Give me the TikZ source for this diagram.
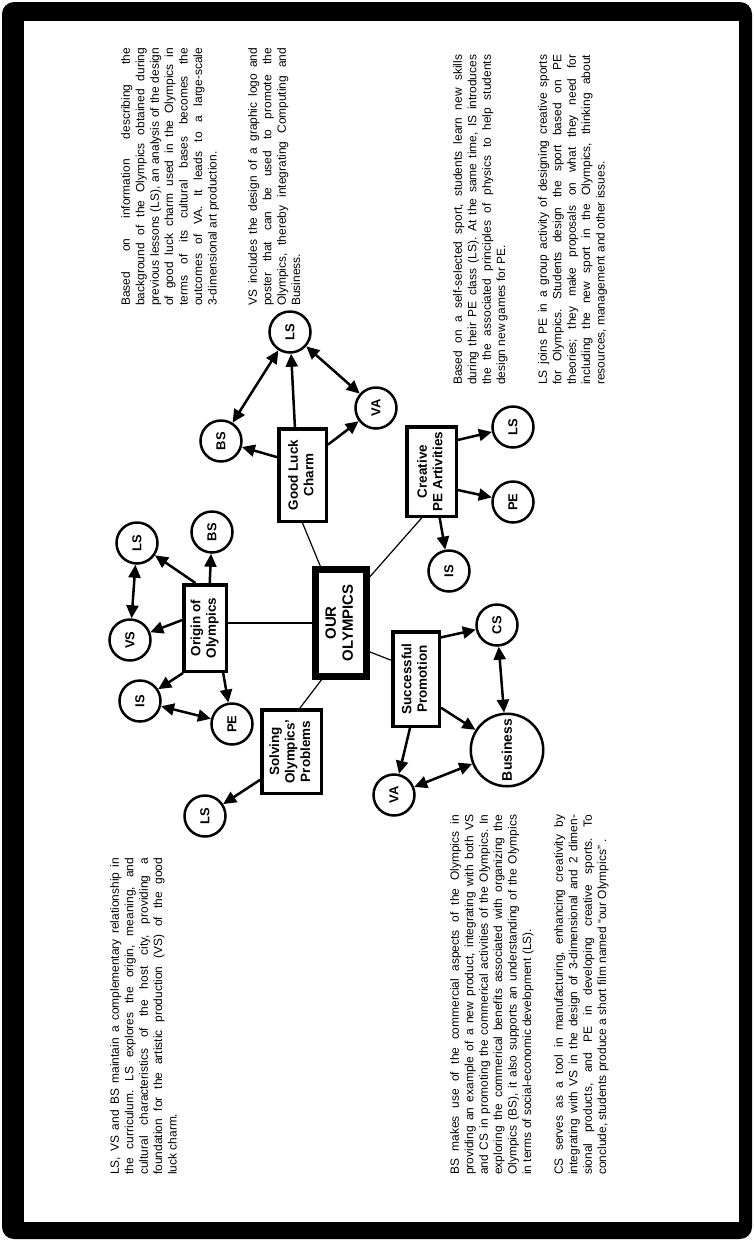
\documentclass[tikz,border=0pt]{standalone}
\usepackage{fontspec}
\setmainfont{Liberation Sans}
\usepackage{graphicx}
\usetikzlibrary{arrows.meta}
\newdimen\pw
\newcommand\jl[1]{\hbox to \pw{#1}}
\frenchspacing
\begin{document}
\begin{tikzpicture}[x=1bp,y=-1bp,
  para/.style={rotate=90,anchor=north west,inner sep=0pt,font=\fontsize{12}{14.5}\selectfont},
  bx/.style={draw,line width=3.5bp,inner sep=0pt,font=\bfseries\fontsize{13.5}{15.5}\selectfont},
  cir/.style={circle,draw,line width=2.5bp,minimum size=41bp,inner sep=0pt,font=\bfseries\fontsize{13}{15}\selectfont},
  arr/.style={line width=2.5bp,-{Triangle[length=13bp,width=12bp]}},
  darr/.style={line width=2.5bp,{Triangle[length=13bp,width=12bp]}-{Triangle[length=13bp,width=12bp]}},
  link/.style={line width=1.2bp}]
\useasboundingbox (0,0) rectangle (754,1241);
\fill[black,rounded corners=12bp] (2,2) rectangle (752,1239);
\fill[white] (24,21) rectangle (739,1222);

% text blocks
\node[para] (t1) at (121,306) {\pw=258bp\vbox{%
\jl{Based on information describing the}
\jl{background of the Olympics obtained during}
\jl{previous lessons (LS), an analysis of the design}
\jl{of good luck charm used in the Olympics in}
\jl{terms of its cultural bases becomes the}
\jl{outcomes of VA. It leads to a large-scale}
\hbox{3-dimensional art production.}}};
\node[para] (t2) at (248,306) {\pw=258bp\vbox{%
\jl{VS includes the design of a graphic logo and}
\jl{poster that can be used to promote the}
\jl{Olympics, thereby integrating Computing and}
\hbox{Business.}}};
\node[para] (t3) at (453,385) {\pw=330bp\vbox{%
\jl{Based on a self-selected sport, students learn new skills}
\jl{during their PE class (LS). At the same time, IS introduces}
\jl{the the associated principles of physics to help students}
\hbox{design new games for PE.}}};
\node[para] (t4) at (538,385) {\pw=330bp\vbox{%
\jl{LS joins PE in a group activity of designing creative sports}
\jl{for Olympics. Students design the sport based on PE}
\jl{theories; they make proposals on what they need for}
\jl{including the new sport in the Olympics, thinking about}
\hbox{resources, management and other issues.}}};
\node[para] (t5) at (110,1175) {\pw=317bp\vbox{%
\jl{LS, VS and BS maintain a complementary relationship in}
\jl{the curriculum. LS explores the origin, meaning, and}
\jl{cultural characteristics of the host city, providing a}
\jl{foundation for the artistic production (VS) of the good}
\hbox{luck charm.}}};
\node[para] (t6) at (450,1175) {\pw=360bp\vbox{%
\jl{BS makes use of the commercial aspects of the Olympics in}
\jl{providing an example of a new product, integrating with both VS}
\jl{and CS in promoting the commerical activities of the Olympics. In}
\jl{exploring the commerical benefits associated with organizing the}
\jl{Olympics (BS), it also supports an understanding of the Olympics}
\hbox{in terms of social-economic development (LS).}}};
\node[para] (t7) at (554,1175) {\pw=360bp\vbox{%
\jl{CS serves as a tool in manufacturing, enhancing creativity by}
\jl{integrating with VS in the design of 3-dimensional and 2 dimen-}
\jl{sional products, and PE in developing creative sports. To}
\hbox{conclude, students produce a short film named “our Olympics” .}}};

% boxes
\node[bx,line width=7bp,minimum width=51bp,minimum height=107bp] (our) at (341,623)
  {\rotatebox{90}{\fontsize{15}{17}\selectfont\begin{tabular}{@{}c@{}}OUR\\OLYMPICS\end{tabular}}};
\node[bx,minimum width=42.5bp,minimum height=86.5bp] (org) at (205,628)
  {\rotatebox{90}{\begin{tabular}{@{}c@{}}Origin of\\Olympics\end{tabular}}};
\node[bx,minimum width=47.5bp,minimum height=92.5bp] (gl) at (302.5,475)
  {\rotatebox{90}{\begin{tabular}{@{}c@{}}Good Luck\\Charm\end{tabular}}};
\node[bx,minimum width=49.5bp,minimum height=89.5bp] (cr) at (431.5,471.5)
  {\rotatebox{90}{\begin{tabular}{@{}c@{}}Creative\\PE Artivities\end{tabular}}};
\node[bx,minimum width=46.5bp,minimum height=94.5bp] (pm) at (416,679)
  {\rotatebox{90}{\begin{tabular}{@{}c@{}}Successful\\Promotion\end{tabular}}};
\node[bx,minimum width=59.5bp,minimum height=83.5bp] (sv) at (291.5,751.5)
  {\rotatebox{90}{\begin{tabular}{@{}c@{}}Solving\\Olympics'\\Problems\end{tabular}}};

% circles
\node[cir] (oLS) at (137,543) {\rotatebox{90}{LS}};
\node[cir] (oVS) at (130,640) {\rotatebox{90}{VS}};
\node[cir] (oBS) at (212,532) {\rotatebox{90}{BS}};
\node[cir] (oIS) at (140,701) {\rotatebox{90}{IS}};
\node[cir] (oPE) at (232,724) {\rotatebox{90}{PE}};
\node[cir] (sLS) at (205,816) {\rotatebox{90}{LS}};
\node[cir] (gBS) at (221,441) {\rotatebox{90}{BS}};
\node[cir] (gLS) at (290,332) {\rotatebox{90}{LS}};
\node[cir] (gVA) at (376,408) {\rotatebox{90}{VA}};
\node[cir] (cLS) at (513,427) {\rotatebox{90}{LS}};
\node[cir] (cPE) at (513,502) {\rotatebox{90}{PE}};
\node[cir] (cIS) at (449,571) {\rotatebox{90}{IS}};
\node[cir] (pCS) at (497,625) {\rotatebox{90}{CS}};
\node[cir,minimum size=72.5bp,font=\bfseries\fontsize{14}{15}\selectfont,text depth=0pt] (pBus) at (507,750) {\rotatebox{90}{\raisebox{-3bp}{Business}}};
\node[cir] (pVA) at (394,795) {\rotatebox{90}{VA}};

% links from centre
\draw[link] (our.west) -- (our.west -| org.east);
\draw[link] (our.110) -- (gl.south);
\draw[link] (our.58) -- (cr.258);
\draw[link] (our.315) -- (pm.143);
\draw[link] (our.251) -- (sv.79);

% arrows
\draw[arr] (org.102) -- (oLS);
\draw[arr] (org.84) -- (oBS);
\draw[arr] (org.161) -- (oVS);
\draw[arr] (org.244) -- (oIS);
\draw[arr] (org.292) -- (oPE);
\draw[darr] (oLS) -- (oVS);
\draw[darr] (oIS) -- (oPE);
\draw[arr] (sv.222) -- (sLS);
\draw[arr] (gl.145) -- (gBS);
\draw[arr] (gl.99) -- (gLS);
\draw[arr] (gl.50) -- (gVA);
\draw[darr] (gBS) -- (gLS);
\draw[darr] (gLS) -- (gVA);
\draw[arr] (cr.50) -- (cLS);
\draw[arr] (cr.325) -- (cPE);
\draw[arr] (cr.280) -- (cIS);
\draw[arr] (pm.59) -- (pCS);
\draw[arr] (pm.311) -- (pBus);
\draw[arr] (pm.263) -- (pVA);
\draw[darr] (pCS) -- (pBus);
\draw[darr] (pVA) -- (pBus);
\end{tikzpicture}
\end{document}
